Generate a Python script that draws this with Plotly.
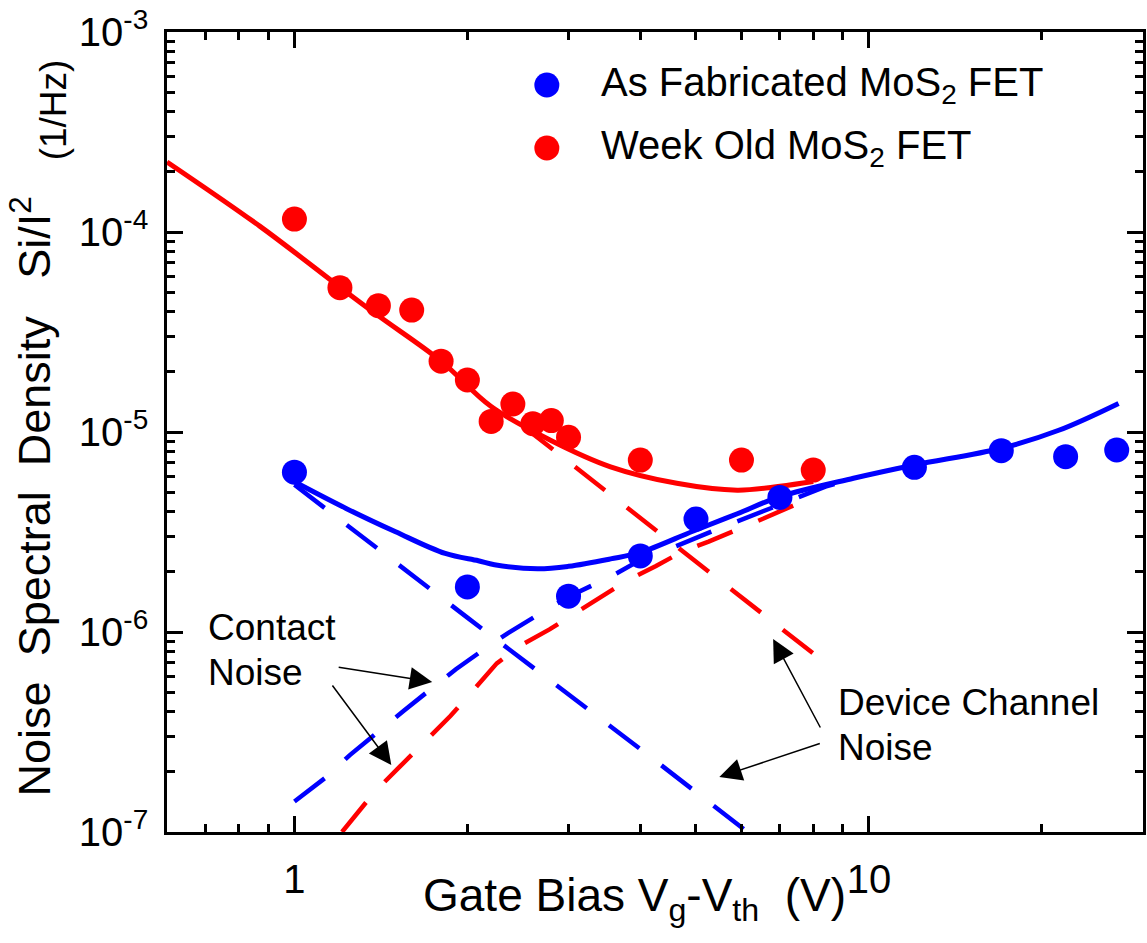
import math
import plotly.graph_objects as go

# ---- measured noise (Si/I^2 at fixed frequency) vs. overdrive Vg - Vth ----
vg_fresh = [1, 2, 3, 4, 5, 7, 12, 17, 22, 27]
s_fresh = [6.3e-6, 1.68e-6, 1.51e-6, 2.4e-6, 3.67e-6, 4.71e-6, 6.66e-6, 8.07e-6, 7.53e-6, 8.13e-6]

vg_aged = [1, 1.2, 1.4, 1.6, 1.8, 2.0, 2.2, 2.4, 2.6, 2.8, 3.0, 4, 6, 8]
s_aged = [1.16e-4, 5.27e-5, 4.28e-5, 4.07e-5, 2.26e-5, 1.82e-5, 1.13e-5, 1.38e-5,
          1.1e-5, 1.14e-5, 9.4e-6, 7.24e-6, 7.24e-6, 6.45e-6]

# ---- model curves: total fit, contact component, channel component ----
fit_fresh_x = [1.0, 1.23, 1.5, 1.83, 2.09, 2.23, 2.65, 3.0, 3.55, 4.0, 4.95, 5.9, 7.0,
               9.4, 12.0, 17.0, 21.4, 27.2]
fit_fresh_y = [5.64e-6, 4.15e-6, 3.17e-6, 2.47e-6, 2.27e-6, 2.17e-6, 2.07e-6, 2.13e-6,
               2.32e-6, 2.5e-6, 3.2e-6, 3.9e-6, 4.75e-6, 5.87e-6, 6.84e-6, 8.29e-6,
               1.02e-5, 1.39e-5]

contact_fresh_x = [1.0, 1.13, 1.25, 1.39, 1.55, 1.72, 1.91, 2.13, 2.35, 2.63, 3.0, 3.6,
                   4.0, 4.45, 5.0, 5.55, 7.0, 8.4, 9.4]
contact_fresh_y = [1.42e-7, 1.86e-7, 2.43e-7, 3.14e-7, 4.04e-7, 5.13e-7, 6.51e-7, 8.13e-7,
                   9.85e-7, 1.2e-6, 1.5e-6, 1.93e-6, 2.29e-6, 2.57e-6, 2.95e-6, 3.34e-6,
                   4.33e-6, 5.33e-6, 5.87e-6]

channel_fresh_x = [1.0, 2.0, 4.0, 6.2]
channel_fresh_y = [5.45e-6, 1.18e-6, 2.6e-7, 9.8e-8]

fit_aged_x = [0.6, 0.87, 1.2, 1.4, 1.8, 2.2, 2.79, 3.55, 4.63, 5.9, 7.0, 8.0]
fit_aged_y = [2.24e-4, 1.07e-4, 5.3e-5, 3.81e-5, 2.26e-5, 1.34e-5, 9.1e-6, 6.7e-6,
              5.54e-6, 5.12e-6, 5.35e-6, 5.65e-6]

contact_aged_x = [1.21, 1.38, 1.53, 1.69, 1.87, 2.05, 2.25, 2.5, 2.78, 3.09, 3.45, 3.82,
                  4.26, 4.73, 5.26, 5.85, 6.51, 7.19, 8.05]
contact_aged_y = [1.0e-7, 1.59e-7, 2.14e-7, 2.86e-7, 3.81e-7, 5.13e-7, 6.97e-7, 8.71e-7,
                  1.03e-6, 1.25e-6, 1.53e-6, 1.83e-6, 2.14e-6, 2.52e-6, 2.83e-6, 3.24e-6,
                  3.66e-6, 4.15e-6, 4.75e-6]

channel_aged_x = [2.5, 4.0, 6.0, 8.05]
channel_aged_y = [1.07e-5, 3.72e-6, 1.49e-6, 7.7e-7]

# ---- axis ticks ----
x_major = [1, 10]
x_major_text = ["1", "10"]
x_minor = [0.7, 0.8, 0.9, 2, 3, 4, 5, 6, 7, 8, 9, 20, 30]
y_major = [1e-7, 1e-6, 1e-5, 1e-4, 1e-3]
y_major_text = ["10<sup>-7</sup>", "10<sup>-6</sup>", "10<sup>-5</sup>",
                "10<sup>-4</sup>", "10<sup>-3</sup>"]
y_minor = [m * 10.0 ** e for e in range(-7, -3) for m in range(2, 10)]

BLUE = "#0000FF"
RED = "#FF0000"
FONT = "Liberation Sans, Arial, Helvetica, sans-serif"

# page geometry (pixels) of the plotting area
W, H = 1147, 943
L, R, T, B = 167, 1146, 32, 832


def px(x):
    return (x - L) / (R - L)


def py(y):
    return (B - y) / (B - T)


DASH = "38px,28px"
SP = "\u00a0"

fig = go.Figure()

# dashed component curves
fig.add_trace(go.Scatter(x=channel_fresh_x, y=channel_fresh_y, mode="lines",
                         line=dict(color=BLUE, width=4.5, dash=DASH), showlegend=False))
fig.add_trace(go.Scatter(x=contact_fresh_x, y=contact_fresh_y, mode="lines",
                         line=dict(color=BLUE, width=4.5, dash=DASH), showlegend=False))
fig.add_trace(go.Scatter(x=channel_aged_x, y=channel_aged_y, mode="lines",
                         line=dict(color=RED, width=4.5, dash=DASH), showlegend=False))
fig.add_trace(go.Scatter(x=contact_aged_x, y=contact_aged_y, mode="lines",
                         line=dict(color=RED, width=4.5, dash=DASH), showlegend=False))

# total fits
fig.add_trace(go.Scatter(x=fit_fresh_x, y=fit_fresh_y, mode="lines", line_shape="spline",
                         line=dict(color=BLUE, width=5), showlegend=False))
fig.add_trace(go.Scatter(x=fit_aged_x, y=fit_aged_y, mode="lines", line_shape="spline",
                         line=dict(color=RED, width=5), showlegend=False))

# measured points
fig.add_trace(go.Scatter(x=vg_fresh, y=s_fresh, mode="markers",
                         name="As Fabricated MoS2 FET",
                         marker=dict(color=BLUE, size=25, line=dict(width=0)),
                         showlegend=False))
fig.add_trace(go.Scatter(x=vg_aged, y=s_aged, mode="markers",
                         name="Week Old MoS2 FET",
                         marker=dict(color=RED, size=25, line=dict(width=0)),
                         showlegend=False))

axis_common = dict(
    type="log", showgrid=False, zeroline=False, showline=True, linecolor="black",
    linewidth=2.5, mirror="ticks", ticks="inside", ticklen=16, tickwidth=2.5,
    tickcolor="black", tickfont=dict(family=FONT, size=40, color="black"),
    tickmode="array",
)

fig.update_xaxes(
    **axis_common,
    range=[math.log10(0.6), math.log10(30)],
    tickvals=x_major, ticktext=x_major_text, ticklabelstandoff=10,
    minor=dict(ticks="inside", ticklen=8, tickwidth=2.5, tickcolor="black",
               tickvals=x_minor, showgrid=False),
)
fig.update_yaxes(
    **axis_common,
    range=[-7, -3],
    tickvals=y_major, ticktext=y_major_text, ticklabelstandoff=8,
    minor=dict(ticks="inside", ticklen=8, tickwidth=2.5, tickcolor="black",
               tickvals=y_minor, showgrid=False),
)

annotations = []

# axis titles
annotations.append(dict(
    text="Gate Bias V<sub>g</sub>-V<sub>th</sub>" + SP * 2 + "(V)",
    x=px(636), y=py(898), xref="paper", yref="paper", xanchor="center", yanchor="middle",
    showarrow=False, font=dict(family=FONT, size=46, color="black")))
annotations.append(dict(
    text="Noise" + SP * 2 + "Spectral" + SP * 2 + "Density" + SP * 3 + "Si/I<sup>2</sup>",
    x=px(31), y=py(496), xref="paper", yref="paper", xanchor="center", yanchor="middle",
    textangle=-90, showarrow=False, font=dict(family=FONT, size=45, color="black")))
annotations.append(dict(
    text="(1/Hz)",
    x=px(53), y=py(110), xref="paper", yref="paper", xanchor="center", yanchor="middle",
    textangle=-90, showarrow=False, font=dict(family=FONT, size=37, color="black")))

# legend entries
legend_rows = [("As Fabricated MoS<sub>2</sub> FET", BLUE, 85),
               ("Week Old MoS<sub>2</sub> FET", RED, 148)]
shapes = []
for label, color, yrow in legend_rows:
    shapes.append(dict(type="circle", xref="paper", yref="paper",
                       xsizemode="pixel", ysizemode="pixel",
                       xanchor=px(548), yanchor=py(yrow),
                       x0=-12.5, x1=12.5, y0=-12.5, y1=12.5,
                       fillcolor=color, line=dict(width=0)))
    annotations.append(dict(text=label, x=px(600), y=py(yrow), xref="paper", yref="paper",
                            xanchor="left", yanchor="middle", showarrow=False,
                            font=dict(family=FONT, size=40, color="black")))

# call-out labels
for text, xl, ymid in [("Contact", 206, 627), ("Noise", 206, 672),
                       ("Device Channel", 838, 702), ("Noise", 838, 747)]:
    annotations.append(dict(text=text, x=px(xl), y=py(ymid), xref="paper", yref="paper",
                            xanchor="left", yanchor="middle", showarrow=False,
                            font=dict(family=FONT, size=37, color="black")))

# call-out arrows: (tail, tip) in page pixels
for (tx, ty), (hx, hy) in [((338, 667), (433, 682)), ((332, 684), (392, 765)),
                           ((823, 729), (775, 639)), ((823, 743), (721, 777))]:
    annotations.append(dict(text="", x=px(hx), y=py(hy), xref="paper", yref="paper",
                            ax=tx - hx, ay=ty - hy, axref="pixel", ayref="pixel",
                            showarrow=True, arrowhead=2, arrowsize=3.0, arrowwidth=1.5,
                            arrowcolor="black", standoff=0, startstandoff=0))

fig.update_layout(
    width=W, height=H,
    margin=dict(l=L, r=W - R, t=T, b=H - B),
    paper_bgcolor="white", plot_bgcolor="white",
    font=dict(family=FONT, color="black"),
    annotations=annotations, shapes=shapes,
    showlegend=False,
)

fig.write_html("out.html")
